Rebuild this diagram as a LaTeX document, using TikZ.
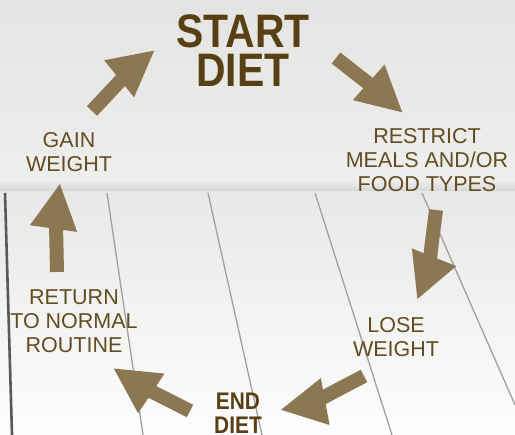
\documentclass[tikz,border=0pt]{standalone}
\usepackage{fontspec}
\setmainfont{Liberation Sans}
\newfontfamily\keyfont[FakeStretch=0.87]{Liberation Sans}
\usetikzlibrary{arrows.meta}
\definecolor{ArrowBrown}{RGB}{140,119,83}
\definecolor{LabelBrown}{RGB}{98,76,34}
\definecolor{KeyBrown}{RGB}{88,64,20}
\definecolor{WallTop}{RGB}{228,228,226}
\definecolor{WallMid}{RGB}{238,238,236}
\definecolor{WallBase}{RGB}{212,212,210}
\definecolor{FloorTop}{RGB}{232,232,230}
\definecolor{FloorBottom}{RGB}{253,253,253}
\definecolor{GapGray}{RGB}{160,160,160}
\tikzset{
  steplabel/.style={text=LabelBrown,font=\fontsize{21.5}{24}\selectfont,
    align=center,inner sep=0pt,anchor=base},
  keylabel/.style={text=KeyBrown,align=center,inner sep=0pt,anchor=base},
  cyclearrow/.style={ArrowBrown,line width=14pt,
    -{Triangle[length=46pt,width=44pt]}},
  plankgap/.style={GapGray,line width=1.3pt}
}
\begin{document}
\begin{tikzpicture}[x=1pt,y=-1pt]
\useasboundingbox (0,0) rectangle (515,435);
% wall and floor
\shade[top color=WallTop,bottom color=WallMid] (0,0) rectangle (515,180);
\shade[top color=WallMid,bottom color=WallBase] (0,180) rectangle (515,192);
\shade[top color=FloorTop,bottom color=FloorBottom] (0,192) rectangle (515,435);
\draw[plankgap,line width=2.6pt,black!65] (5,193) -- (12,435);
\draw[plankgap] (107,193) -- (143,435);
\draw[plankgap] (208,193) -- (262,435);
\draw[plankgap] (315,193) -- (392,435);
\draw[plankgap] (422,193) -- (515,405);

% steps of the cycle (anchored at the last baseline)
\node[keylabel,font=\keyfont\bfseries\fontsize{47}{39}\selectfont] (start) at (243,87) {START\\DIET};
\node[steplabel] (restrict) at (427,192) {RESTRICT\\MEALS AND/OR\\FOOD TYPES};
\node[steplabel] (lose) at (396,357) {LOSE\\WEIGHT};
\node[keylabel,font=\keyfont\bfseries\fontsize{24}{24}\selectfont] (end) at (238,434) {END\\DIET};
\node[steplabel] (return) at (74,353) {RETURN\\TO NORMAL\\ROUTINE};
\node[steplabel] (gain) at (69,172) {GAIN\\WEIGHT};

% arrow ends (control point sits inside the head)
\coordinate (t1) at (336,58);  \coordinate (c1) at (380.6,93);    \coordinate (h1) at (403,113);
\coordinate (t2) at (436,210); \coordinate (c2) at (428.1,272.2); \coordinate (h2) at (417,300);
\coordinate (t3) at (364,376); \coordinate (c3) at (309.5,404.5); \coordinate (h3) at (280,410);
\coordinate (t4) at (190,411); \coordinate (c4) at (138,384.6);   \coordinate (h4) at (113,368);
\coordinate (t5) at (57,272);  \coordinate (c5) at (55.8,212.7);  \coordinate (h5) at (60,183);
\coordinate (t6) at (92,111);  \coordinate (c6) at (131.6,68.8);  \coordinate (h6) at (155,50);

\draw[cyclearrow] (t1) .. controls (c1) .. (h1);
\draw[cyclearrow] (t2) .. controls (c2) .. (h2);
\draw[cyclearrow] (t3) .. controls (c3) .. (h3);
\draw[cyclearrow] (t4) .. controls (c4) .. (h4);
\draw[cyclearrow] (t5) .. controls (c5) .. (h5);
\draw[cyclearrow] (t6) .. controls (c6) .. (h6);
\end{tikzpicture}
\end{document}
